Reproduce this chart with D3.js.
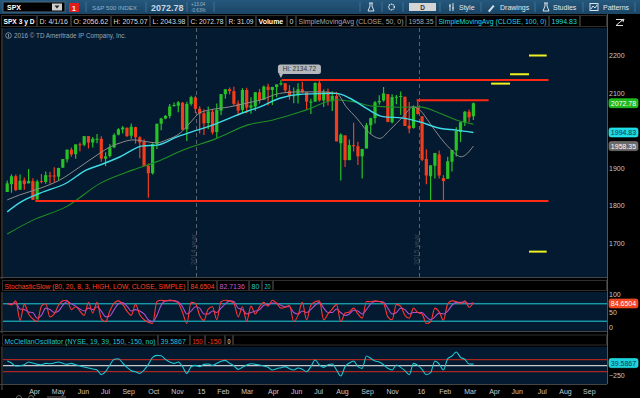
<!DOCTYPE html>
<html>
<head>
<meta charset="utf-8">
<script src="https://cdn.jsdelivr.net/npm/d3@7"></script>
<style>
  html, body { margin: 0; padding: 0; background: #000; overflow: hidden; }
  svg { display: block; font-family: "Liberation Sans", Arial, sans-serif; }
</style>
</head>
<body>
<script>
// weekly SPX candles, week ending Fri 2014-02-28 .. 2016-04-01
const opens = [
  1836, 1857, 1878, 1842, 1867, 1859, 1865, 1816, 1865, 1863, 1880, 1880, 1877, 1901, 1923, 1949, 1937, 1963, 1962, 1985, 1968, 1978,
  1978, 1925, 1932, 1955, 1989, 2003, 2007, 1986, 2009, 1982, 1970, 1906, 1886, 1964, 2018, 2032, 2039, 2065, 2066, 2074, 2003, 2071,
  2088,
  2058, 2046, 2020, 2050, 1996, 2053, 2097, 2110, 2105, 2072, 2055, 2108, 2061, 2064, 2102, 2082, 2117, 2108, 2116, 2123, 2126, 2106,
  2092, 2094, 2110, 2102, 2075, 2077, 2127, 2080, 2104, 2078, 2092, 1966, 1987, 1921, 1961, 1958, 1931, 1952, 2014, 2033, 2075, 2080,
  2097, 2022, 2089, 2090, 2090, 2013, 2007, 2061,
  2038, 1924, 1878, 1906, 1936, 1873, 1871, 1917, 1947, 1996, 2022, 2050, 2038
];
const highs = [
  1867, 1883, 1883, 1883, 1875, 1897, 1873, 1869, 1884, 1891, 1890, 1902, 1901, 1924, 1949, 1955, 1963, 1968, 1985, 1985, 1983, 1991,
  1985, 1942, 1964, 1993, 2006, 2012, 2009, 2019, 2010, 1985, 1977, 1912, 1966, 2018, 2034, 2041, 2071, 2075, 2079, 2076, 2077, 2093,
  2093,
  2065, 2057, 2064, 2057, 2072, 2097, 2110, 2115, 2117, 2080, 2113, 2114, 2089, 2103, 2111, 2120, 2125, 2117, 2123, 2135, 2126, 2121,
  2115, 2126, 2130, 2102, 2085, 2128, 2132, 2110, 2112, 2105, 2103, 1993, 1987, 1976, 2021, 1970, 1951, 2020, 2034, 2079, 2094, 2116,
  2097, 2097, 2095, 2104, 2090, 2076, 2067, 2082,
  2038, 1950, 1908, 1940, 1947, 1881, 1930, 1948, 2009, 2022, 2052, 2056, 2075
];
const lows = [
  1836, 1834, 1839, 1842, 1842, 1859, 1815, 1816, 1859, 1858, 1858, 1862, 1868, 1900, 1915, 1930, 1925, 1944, 1958, 1952, 1955, 1966,
  1917, 1905, 1928, 1953, 1987, 1992, 1983, 1978, 1965, 1926, 1906, 1821, 1883, 1951, 2001, 2030, 2033, 2064, 2049, 2002, 1972, 2066,
  2046,
  1992, 1988, 2004, 1989, 1981, 2041, 2085, 2097, 2067, 2040, 2048, 2046, 2045, 2052, 2072, 2082, 2067, 2068, 2089, 2120, 2100, 2082,
  2073, 2072, 2100, 2056, 2044, 2077, 2077, 2063, 2067, 2052, 1971, 1867, 1903, 1921, 1944, 1908, 1872, 1952, 1990, 2019, 2069, 2077,
  2022, 2019, 2070, 2042, 2012, 1993, 2005, 2043,
  1918, 1857, 1812, 1872, 1872, 1810, 1871, 1891, 1931, 1969, 2012, 2022, 2028
];
const closes = [
  1859, 1878, 1841, 1866, 1857, 1865, 1815, 1864, 1863, 1881, 1878, 1878, 1900, 1924, 1949, 1936, 1963, 1961, 1985, 1968, 1978, 1978,
  1925, 1931, 1955, 1988, 2003, 2008, 1985, 2010, 1982, 1968, 1906, 1886, 1964, 2018, 2032, 2039, 2064, 2068, 2075, 2002, 2071, 2089,
  2058,
  2045, 2019, 2051, 1995, 2055, 2097, 2110, 2105, 2071, 2053, 2108, 2061, 2067, 2102, 2081, 2117, 2108, 2116, 2123, 2126, 2107, 2092,
  2094, 2110, 2102, 2077, 2077, 2127, 2080, 2104, 2078, 2092, 1971, 1989, 1921, 1961, 1958, 1931, 1951, 2014, 2033, 2075, 2079, 2099,
  2023, 2089, 2090, 2092, 2012, 2005, 2061, 2044,
  1922, 1880, 1907, 1940, 1880, 1865, 1918, 1948, 1999, 2022, 2050, 2035, 2072.78
];

// moving averages
const sma50Dates = ["2014-02-26", "2014-03-18", "2014-04-21", "2014-05-23", "2014-06-25", "2014-07-28", "2014-08-13", "2014-08-30",
  "2014-09-20", "2014-10-13", "2014-10-29", "2014-11-14", "2014-12-06", "2014-12-22", "2015-01-07", "2015-01-24", "2015-02-25",
  "2015-03-25", "2015-04-16", "2015-05-18", "2015-06-20", "2015-07-23", "2015-08-19", "2015-09-04", "2015-09-21", "2015-10-07",
  "2015-10-29", "2015-11-14", "2015-12-06", "2015-12-22", "2016-01-02", "2016-01-19", "2016-02-04", "2016-02-20", "2016-03-10",
  "2016-03-30"];
const sma50 = [1815, 1828, 1846, 1868, 1903, 1940, 1956, 1967, 1975, 1970, 1967, 1975, 1993, 2020, 2047, 2055, 2063, 2073, 2081,
  2099, 2103, 2103, 2099, 2063, 2033, 2001, 1979, 2001, 2037, 2063, 2055, 2019, 1983, 1953, 1930, 1958.35];
const sma100Dates = ["2014-02-26", "2014-03-18", "2014-04-21", "2014-06-03", "2014-07-06", "2014-07-28", "2014-08-30", "2014-10-06",
  "2014-10-29", "2014-12-01", "2015-01-03", "2015-01-29", "2015-03-03", "2015-03-27", "2015-04-16", "2015-05-18", "2015-06-25",
  "2015-08-19", "2015-09-10", "2015-10-07", "2015-11-03", "2015-12-06", "2016-01-02", "2016-02-04", "2016-03-02", "2016-03-30"];
const sma100 = [1783, 1807, 1833, 1860, 1895, 1908, 1930, 1959, 1961, 1983, 2001, 2015, 2037, 2052, 2063, 2086, 2097, 2099, 2086,
  2059, 2037, 2033, 2023, 2006, 2001, 1994.83];
const sma200Dates = ["2014-02-26", "2014-04-09", "2014-06-03", "2014-07-28", "2014-09-20", "2014-10-29", "2014-12-11", "2015-02-04",
  "2015-03-27", "2015-05-07", "2015-07-01", "2015-08-19", "2015-09-15", "2015-10-18", "2015-12-01", "2016-01-02", "2016-02-04",
  "2016-03-02", "2016-03-30"];
const sma200 = [1724, 1761, 1797, 1859, 1895, 1917, 1948, 1979, 2015, 2028, 2055, 2082, 2077, 2065, 2062, 2063, 2046, 2028, 2017];

// drawn levels
const redLevels = [2134.72, 2081, 1812];
const redFrom = ["2015-05-21", "2015-12-28", "2014-04-13"];
const redTo = ["2016-07-31", "2016-04-24", "2016-07-31"];
const yellowLevels = [2200, 2150, 2125, 1677];
const yellowFrom = ["2016-06-29", "2016-05-29", "2016-04-28", "2016-06-29"];
const yellowTo = ["2016-07-28", "2016-06-29", "2016-05-29", "2016-07-28"];

// StochasticSlow %K / %D, one value per week
const stochK = [82, 76, 90, 23, 78, 45, 28, 18, 72, 80, 35, 45, 75, 90, 92, 60, 70, 55, 40, 85, 48, 85, 28, 18, 55, 82, 90, 78, 55,
  40, 78, 42, 25, 16, 12, 88, 92, 90, 93, 90, 82, 50, 12, 85, 82, 40, 23, 62, 70, 25, 87, 92, 90, 82, 35, 70, 20, 72, 45, 70, 85, 72,
  92, 82, 65, 68, 75, 18, 40, 85, 25, 75, 87, 90, 25, 45, 62, 78, 18, 48, 52, 65, 45, 30, 88, 87, 90, 88, 82, 35, 25, 78, 72, 40, 30,
  65, 50, 45, 12, 18, 65, 52, 23, 80, 90, 88, 80, 90, 68, 84.6504];
const stochD = [80, 79, 83, 62, 60, 52, 50, 30, 40, 65, 60, 50, 55, 75, 88, 80, 72, 62, 55, 65, 60, 70, 55, 35, 38, 60, 80, 84, 72,
  55, 60, 55, 45, 25, 18, 40, 75, 90, 91, 91, 86, 70, 45, 55, 70, 65, 45, 45, 55, 50, 65, 80, 90, 88, 65, 60, 45, 50, 55, 60, 75, 78,
  83, 82, 75, 70, 70, 50, 45, 55, 50, 60, 75, 85, 65, 50, 50, 62, 50, 40, 45, 58, 55, 45, 60, 80, 88, 88, 86, 65, 45, 50, 65, 60, 45,
  50, 50, 50, 35, 25, 35, 48, 45, 55, 75, 85, 85, 86, 80, 82.7136];

// McClellanOscillator (NYSE), one value per week
const mcclellan = [117, 67, -8, 0, 25, 92, 67, 34, 25, 59, 50, 67, 92, 59, 34, 59, 25, -8, -33, -58, -83, -108, -225, -150, 17, 159,
  175, 67, -41, -125, -150, -192, -108, 34, 209, 259, 250, 159, 92, 59, 92, -24, -192, -24, 8, -24, 34, 42, 8, 59, 109, 134, 59, 0,
  -91, -41, 17, 50, 34, 17, -8, -41, -108, -75, -50, -24, -75, -108, -58, -91, -150, -24, 142, 17, -41, 25, 42, -108, -258, -24, 67,
  117, -24, -66, 242, 184, 117, 92, 25, -66, -108, 17, -41, -125, -225, 59, 8, -91, -225, -175, 117, 42, -108, 175, 242, 342, 209,
  159, 42, 39.5867];

// time axis labels
const xTickDates = ["2014-04-11", "2014-05-20", "2014-06-30", "2014-08-05", "2014-09-12", "2014-10-23", "2014-12-01", "2015-01-09",
  "2015-02-14", "2015-03-25", "2015-05-07", "2015-06-14", "2015-07-20", "2015-08-28", "2015-10-08", "2015-11-18", "2016-01-04",
  "2016-02-12", "2016-03-24", "2016-05-03", "2016-06-09", "2016-07-20", "2016-08-27", "2016-10-05"];
const xTickLabels = ["Apr", "May", "Jun", "Jul", "Sep", "Oct", "Nov", "15", "Feb", "Mar", "Apr", "Jun", "Jul", "Aug", "Sep", "Nov",
  "16", "Feb", "Mar", "Apr", "Jun", "Jul", "Aug", "Sep"];
const yearLines = ["2015-01-01", "2016-01-01"];
const yearLabels = ["2014 year", "2015 year"];
// 2000 sits under the price tags, so it is not shown
const priceTicks = [1700, 1800, 1900, 2100, 2200];

const parse = d3.timeParse("%Y-%m-%d");
const W = 640, H = 398;
const navy = "#031a30";

const svg = d3.select("body").append("svg").attr("width", W).attr("height", H);
svg.append("rect").attr("width", W).attr("height", H).attr("fill", "#000");

const x = d3.scaleTime().domain([parse("2015-01-01"), parse("2016-01-01")]).range([196, 419]);
const y = d3.scaleLinear().domain([1700, 2200]).range([243, 55.5]);
const yStoch = d3.scaleLinear().domain([0, 100]).range([327, 298]);
const yMc = d3.scaleLinear().domain([-250, 150]).range([375.7, 359.7]);

const weeks = d3.timeFriday.range(new Date(2014, 1, 28), new Date(2016, 3, 2)).map((d) => d3.timeDay.offset(d, -2));
const bars = weeks.map((d, i) => ({ date: d, o: opens[i], h: highs[i], l: lows[i], c: closes[i] }));

// ---------- toolbar ----------
const bar = svg.append("g");
const grad = svg.append("defs").append("linearGradient").attr("id", "tb").attr("x1", 0).attr("y1", 0).attr("x2", 0).attr("y2", 1);
grad.append("stop").attr("offset", 0).attr("stop-color", "#25587c");
grad.append("stop").attr("offset", 1).attr("stop-color", "#1a4566");
bar.append("rect").attr("width", W).attr("height", 14).attr("fill", "url(#tb)");
bar.append("rect").attr("x", 3).attr("y", 2).attr("width", 62).attr("height", 10).attr("fill", "#000").attr("stroke", "#4a6a80");
bar.append("text").attr("x", 7).attr("y", 10).attr("fill", "#fff").attr("font-size", 7).attr("font-weight", "bold").text("SPX");
bar.append("rect").attr("x", 52).attr("y", 3.5).attr("width", 10).attr("height", 7).attr("fill", "#cfcfcf");
bar.append("path").attr("d", "M54.5,5.5h5l-2.5,3z").attr("fill", "#222");
bar.append("rect").attr("x", 69).attr("y", 3).attr("width", 10).attr("height", 9).attr("fill", "#e21c1c");
bar.append("text").attr("x", 74).attr("y", 10.5).attr("text-anchor", "middle").attr("fill", "#fff")
  .attr("font-size", 7).attr("font-weight", "bold").text("1");
bar.append("text").attr("x", 92).attr("y", 10).attr("fill", "#8eb0c8").attr("font-size", 6.2).text("S&P 500 INDEX");
bar.append("text").attr("x", 151).attr("y", 11).attr("fill", "#c9d6e2").attr("font-size", 9).attr("font-weight", "bold").text("2072.78");
bar.append("text").attr("x", 191).attr("y", 6).attr("fill", "#9fb6c8").attr("font-size", 4.6).text("+13.04");
bar.append("text").attr("x", 191).attr("y", 11.5).attr("fill", "#9fb6c8").attr("font-size", 4.6).text("-0.63%");
[86, 146, 187, 214, 360, 382, 403, 440, 481, 535, 583, 635].forEach((sx) =>
  bar.append("line").attr("x1", sx).attr("x2", sx).attr("y1", 2).attr("y2", 12).attr("stroke", "#3f7196"));
// flask, gear, D, buttons
bar.append("path").attr("d", "M369,3h4M370,3v3l-2,5h6l-2,-5v-3").attr("fill", "none").attr("stroke", "#d8e2ea");
bar.append("circle").attr("cx", 391.5).attr("cy", 7).attr("r", 2.8).attr("fill", "none").attr("stroke", "#d8e2ea").attr("stroke-width", 1.4)
  .attr("stroke-dasharray", "1.2,0.8");
bar.append("rect").attr("x", 409).attr("y", 3).attr("width", 27).attr("height", 8).attr("fill", "#d4d4d4");
bar.append("text").attr("x", 422.5).attr("y", 9.5).attr("text-anchor", "middle").attr("fill", "#333").attr("font-size", 6.5)
  .attr("font-weight", "bold").text("D");
bar.append("path").attr("d", "M450,4v7M453,3v8M449,6h2M452,8h2").attr("stroke", "#d8e2ea").attr("fill", "none");
bar.append("path").attr("d", "M488,11l5,-6l1.5,1.2l-5,6z").attr("fill", "#d8e2ea");
bar.append("path").attr("d", "M544,3h4M545,3v3l-2,5h6l-2,-5v-3").attr("fill", "none").attr("stroke", "#d8e2ea");
bar.append("rect").attr("x", 590).attr("y", 3.5).attr("width", 8).attr("height", 7).attr("fill", "none").attr("stroke", "#d8e2ea");
bar.append("path").attr("d", "M591,9l2,-3l2,2l2,-3").attr("fill", "none").attr("stroke", "#d8e2ea");
[["Style", 459], ["Drawings", 500], ["Studies", 553], ["Patterns", 603]].forEach(([t, tx]) =>
  bar.append("text").attr("x", tx).attr("y", 10).attr("fill", "#e2e8ee").attr("font-size", 7).text(t));

// ---------- header cells ----------
function cells(list, top, h, base) {
  const g = svg.append("g");
  g.append("rect").attr("x", 0).attr("y", top).attr("width", 607).attr("height", h).attr("fill", "#000");
  list.forEach((c) => {
    g.append("rect").attr("x", c.x0 + 0.5).attr("y", top + 1.5).attr("width", c.x1 - c.x0 - 1).attr("height", h - 3)
      .attr("fill", "#000").attr("stroke", "#2e2e2e");
    if (c.t) {
      const t = g.append("text").attr("x", c.x0 + 2.5).attr("y", base).attr("fill", c.col || "#dcdcdc").attr("font-size", 7)
        .attr("font-weight", c.b ? "bold" : null).text(c.t);
      const room = c.x1 - c.x0 - 5;
      if (t.node().getComputedTextLength() > room) {
        t.attr("textLength", room).attr("lengthAdjust", "spacingAndGlyphs");
      }
    }
  });
}
cells([
  { x0: 1, x1: 37, t: "SPX 3 y D", b: 1, col: "#fff" },
  { x0: 37, x1: 71, t: "D: 4/1/16" },
  { x0: 71, x1: 111, t: "O: 2056.62" },
  { x0: 111, x1: 150, t: "H: 2075.07" },
  { x0: 150, x1: 188, t: "L: 2043.98" },
  { x0: 188, x1: 226, t: "C: 2072.78" },
  { x0: 226, x1: 256, t: "R: 31.09" },
  { x0: 256, x1: 287, t: "Volume", b: 1, col: "#fff" },
  { x0: 287, x1: 296, t: "0" },
  { x0: 296, x1: 406, t: "SimpleMovingAvg (CLOSE, 50, 0)", col: "#a8a8a8" },
  { x0: 406, x1: 436, t: "1958.35", col: "#a8a8a8" },
  { x0: 436, x1: 549, t: "SimpleMovingAvg (CLOSE, 100, 0)", col: "#22d8e8" },
  { x0: 549, x1: 580, t: "1994.83", col: "#22d8e8" },
  { x0: 580, x1: 607 }
], 14, 14, 24);
// zoom icon on the axis
svg.append("path").attr("d", "M616,19.5h7l-7,6h7M621,21l3,-2l-1,3").attr("fill", "none").attr("stroke", "#ddd").attr("stroke-width", 1);

// ---------- main panel ----------
svg.append("rect").attr("x", 3).attr("y", 28).attr("width", 604).attr("height", 249).attr("fill", navy);
svg.append("defs").append("clipPath").attr("id", "mainClip").append("rect")
  .attr("x", 3).attr("y", 28).attr("width", 604).attr("height", 249);
const main = svg.append("g").attr("clip-path", "url(#mainClip)");

main.append("circle").attr("cx", 8.5).attr("cy", 35.5).attr("r", 2.8).attr("fill", "none").attr("stroke", "#9aa5b0").attr("stroke-width", 0.8);
main.append("line").attr("x1", 8.5).attr("x2", 8.5).attr("y1", 34).attr("y2", 37.5).attr("stroke", "#9aa5b0").attr("stroke-width", 0.8);
main.append("text").attr("x", 14).attr("y", 38).attr("fill", "#9aa5b0").attr("font-size", 6.3)
  .text("2016 \u00a9 TD Ameritrade IP Company, Inc.");

yearLines.forEach((d, i) => {
  const xx = Math.round(x(parse(d))) + 0.5;
  main.append("line").attr("x1", xx).attr("x2", xx).attr("y1", 28).attr("y2", 277)
    .attr("stroke", "#5a636c").attr("stroke-dasharray", "4,3");
  main.append("text").attr("transform", `translate(${xx - 1},265) rotate(-90)`).attr("fill", "#3e4c5a")
    .attr("font-size", 7).text(yearLabels[i]);
});

// candles
const candle = main.append("g").selectAll("g").data(bars).enter().append("g");
const colorOf = (d) => (d.c >= d.o ? "#27c227" : "#f23d1c");
candle.append("line")
  .attr("x1", (d) => x(d.date)).attr("x2", (d) => x(d.date))
  .attr("y1", (d) => y(d.h)).attr("y2", (d) => y(d.l))
  .attr("stroke", colorOf).attr("stroke-width", 1.2);
candle.append("rect")
  .attr("x", (d) => x(d.date) - 1.6).attr("width", 3.2)
  .attr("y", (d) => y(Math.max(d.o, d.c)))
  .attr("height", (d) => Math.max(1, Math.abs(y(d.o) - y(d.c))))
  .attr("fill", colorOf);

// moving averages
const maLine = d3.line().x((d) => x(d.date)).y((d) => y(d.v)).curve(d3.curveMonotoneX);
const series = (dates, vals) => dates.map((d, i) => ({ date: parse(d), v: vals[i] }));
main.append("path").datum(series(sma200Dates, sma200)).attr("d", maLine).attr("fill", "none").attr("stroke", "#1f8f24").attr("stroke-width", 1.1);
main.append("path").datum(series(sma50Dates, sma50)).attr("d", maLine).attr("fill", "none").attr("stroke", "#8c8c8c").attr("stroke-width", 1);
main.append("path").datum(series(sma100Dates, sma100)).attr("d", maLine).attr("fill", "none").attr("stroke", "#3fdbe6").attr("stroke-width", 1.4);

// drawn levels
redLevels.forEach((v, i) => {
  main.append("line").attr("x1", x(parse(redFrom[i]))).attr("x2", x(parse(redTo[i])))
    .attr("y1", y(v)).attr("y2", y(v)).attr("stroke", "#ff2a14").attr("stroke-width", 2);
});
yellowLevels.forEach((v, i) => {
  main.append("line").attr("x1", x(parse(yellowFrom[i]))).attr("x2", x(parse(yellowTo[i])))
    .attr("y1", y(v)).attr("y2", y(v)).attr("stroke", "#f0f020").attr("stroke-width", 2);
});

// high callout
const hiBar = bars.find((d) => d.h === d3.max(bars, (b) => b.h));
const hx = x(hiBar.date), hy = y(redLevels[0]);
main.append("path").attr("d", `M${hx - 2},${hy - 6}h4l-2,4z`).attr("fill", "#b4b8bc");
main.append("rect").attr("x", hx - 3).attr("y", hy - 15.5).attr("width", 43).attr("height", 9.5).attr("rx", 2.5)
  .attr("fill", "#b4b8bc");
main.append("text").attr("x", hx + 18.5).attr("y", hy - 8.5).attr("text-anchor", "middle").attr("fill", "#333")
  .attr("font-size", 6.5).text("Hi: 2134.72");

// ---------- axes ----------
svg.append("line").attr("x1", 607.5).attr("x2", 607.5).attr("y1", 14).attr("y2", 384).attr("stroke", "#555");
svg.append("line").attr("x1", 2).attr("x2", 2).attr("y1", 28).attr("y2", 390).attr("stroke", "#555");

function styleAxis(g) {
  g.select(".domain").remove();
  g.selectAll("text").attr("fill", "#c8c8c8").attr("font-size", 7).attr("font-family", "Liberation Sans, Arial, sans-serif");
}
svg.append("g").attr("transform", "translate(607,0)")
  .call(d3.axisRight(y).tickValues(priceTicks).tickSize(0).tickPadding(2).tickFormat(d3.format("d")))
  .call(styleAxis);

function tag(cy, label, fill, color) {
  svg.append("rect").attr("x", 609).attr("y", cy - 4.5).attr("width", 29).attr("height", 9).attr("rx", 2)
    .attr("fill", fill).attr("stroke", d3.color(fill).brighter(0.6)).attr("stroke-width", 0.6);
  svg.append("text").attr("x", 623.5).attr("y", cy + 2.5).attr("text-anchor", "middle").attr("fill", color)
    .attr("font-size", 7).text(label);
}
tag(y(closes[closes.length - 1]), "2072.78", "#1eb81e", "#fff");
tag(y(sma100[sma100.length - 1]), "1994.83", "#1ed6e4", "#0b3a4c");
tag(y(sma50[sma50.length - 1]), "1958.35", "#6a6a6a", "#fff");

// ---------- stochastic panel ----------
svg.append("line").attr("x1", 0).attr("x2", 607).attr("y1", 277.5).attr("y2", 277.5).attr("stroke", "#444");
cells([
  { x0: 2, x1: 188, t: "StochasticSlow (80, 20, 8, 3, HIGH, LOW, CLOSE, SIMPLE)", col: "#ff4528" },
  { x0: 188, x1: 217, t: "84.6504", col: "#ff4528" },
  { x0: 217, x1: 249, t: "82.7136", col: "#c45ad8" },
  { x0: 249, x1: 262, t: "80", col: "#22c8d8" },
  { x0: 262, x1: 273, t: "20", col: "#22c8d8" },
  { x0: 273, x1: 607 }
], 279, 13, 289);
svg.append("rect").attr("x", 3).attr("y", 292).attr("width", 604).attr("height", 39).attr("fill", navy);
svg.append("defs").append("clipPath").attr("id", "stClip").append("rect")
  .attr("x", 3).attr("y", 292).attr("width", 604).attr("height", 39);
const st = svg.append("g").attr("clip-path", "url(#stClip)");
[80, 20].forEach((v) => st.append("line").attr("x1", 3).attr("x2", 607).attr("y1", yStoch(v)).attr("y2", yStoch(v))
  .attr("stroke", "#22d0dc").attr("stroke-width", 1));
const kLine = d3.line().x((d, i) => x(weeks[i])).y((d) => yStoch(d)).curve(d3.curveMonotoneX);
st.append("path").datum(stochD).attr("d", kLine).attr("fill", "none").attr("stroke", "#b04fd0").attr("stroke-width", 1.1);
st.append("path").datum(stochK).attr("d", kLine).attr("fill", "none").attr("stroke", "#ff3434").attr("stroke-width", 1.1);
svg.append("g").attr("transform", "translate(607,-4)")
  .call(d3.axisRight(yStoch).tickValues([100]).tickSize(0).tickPadding(2))
  .call(styleAxis);
svg.append("g").attr("transform", "translate(607,0)")
  .call(d3.axisRight(yStoch).tickValues([0, 50]).tickSize(0).tickPadding(2))
  .call(styleAxis);
tag(yStoch(stochK[stochK.length - 1]) + 1, "84.6504", "#f0451f", "#fff");

// ---------- McClellan panel ----------
svg.append("line").attr("x1", 0).attr("x2", 607).attr("y1", 331.5).attr("y2", 331.5).attr("stroke", "#444");
cells([
  { x0: 2, x1: 158, t: "McClellanOscillator (NYSE, 19, 39, 150, -150, no)", col: "#22c8d8" },
  { x0: 158, x1: 190, t: "39.5867", col: "#22c8d8" },
  { x0: 190, x1: 205, t: "150", col: "#f03a20" },
  { x0: 205, x1: 225, t: "-150", col: "#f03a20" },
  { x0: 225, x1: 233, t: "0", col: "#eee" },
  { x0: 233, x1: 607 }
], 333.5, 13, 343.5);
svg.append("rect").attr("x", 3).attr("y", 347).attr("width", 604).attr("height", 37).attr("fill", navy);
svg.append("defs").append("clipPath").attr("id", "mcClip").append("rect")
  .attr("x", 3).attr("y", 347).attr("width", 604).attr("height", 37);
const mc = svg.append("g").attr("clip-path", "url(#mcClip)");
[150, -150].forEach((v) => mc.append("line").attr("x1", 3).attr("x2", 607).attr("y1", yMc(v)).attr("y2", yMc(v))
  .attr("stroke", "#d42a1e").attr("stroke-width", 1));
mc.append("line").attr("x1", 3).attr("x2", 607).attr("y1", yMc(0)).attr("y2", yMc(0)).attr("stroke", "#c8c8c8").attr("stroke-width", 1.3);
const mLine = d3.line().x((d, i) => x(weeks[i])).y((d) => yMc(d)).curve(d3.curveMonotoneX);
mc.append("path").datum(mcclellan).attr("d", mLine).attr("fill", "none").attr("stroke", "#22c6d2").attr("stroke-width", 1.1);
// the 0 label sits under the value tag
svg.append("g").attr("transform", "translate(607,0)")
  .call(d3.axisRight(yMc).tickValues([-250]).tickSize(0).tickPadding(2))
  .call(styleAxis);
tag(yMc(mcclellan[mcclellan.length - 1]) - 1, "39.5867", "#1ed0de", "#0b3a4c");
svg.append("line").attr("x1", 0).attr("x2", 607).attr("y1", 384.5).attr("y2", 384.5).attr("stroke", "#444");

// ---------- time axis ----------
svg.append("g").attr("transform", "translate(0,386)")
  .call(d3.axisBottom(x).tickValues(xTickDates.map(parse)).tickSize(0).tickPadding(3)
    .tickFormat((d, i) => xTickLabels[i]))
  .call(styleAxis);

// little scroll controls at the bottom edge
svg.append("circle").attr("cx", 19).attr("cy", 398).attr("r", 2.5).attr("fill", "none").attr("stroke", "#666");
svg.append("circle").attr("cx", 31).attr("cy", 398).attr("r", 2.5).attr("fill", "none").attr("stroke", "#666");
svg.append("rect").attr("x", 47).attr("y", 396).attr("width", 19).attr("height", 3).attr("fill", "#333");
</script>
</body>
</html>
